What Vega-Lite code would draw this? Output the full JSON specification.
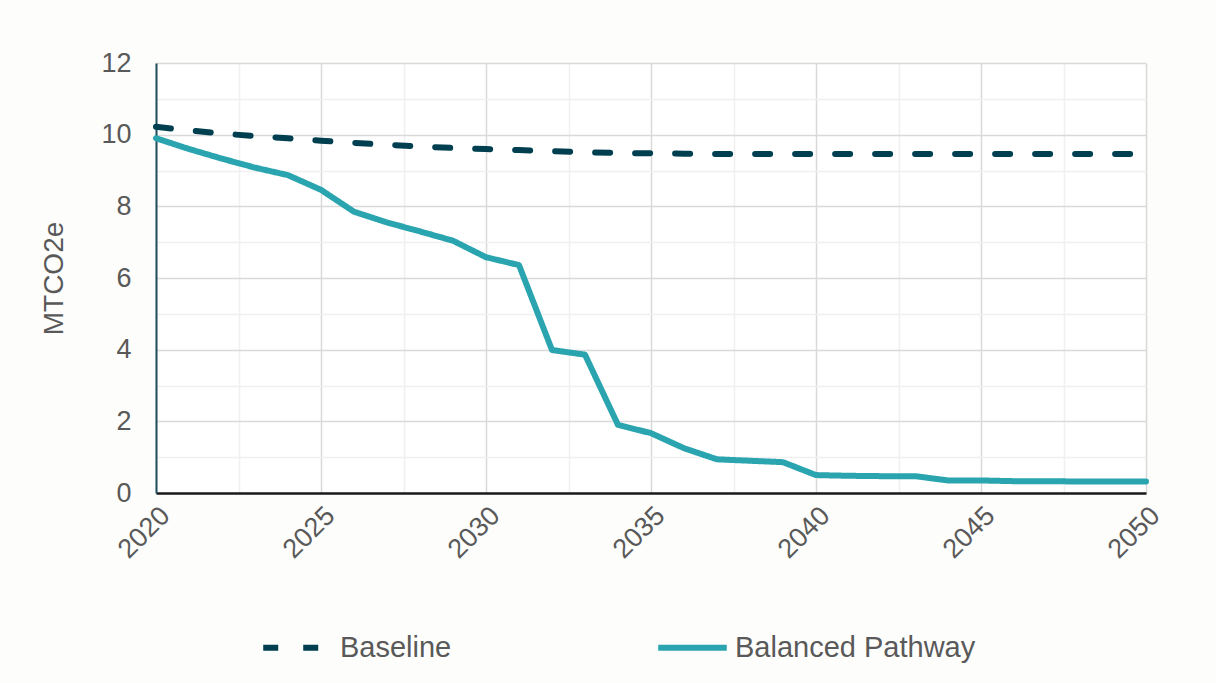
{
  "$schema": "https://vega.github.io/schema/vega-lite/v6.json",
  "width": 990,
  "height": 430,
  "autosize": {"type": "none"},
  "padding": {"left": 156, "top": 63, "right": 70, "bottom": 190},
  "background": "#fdfdfc",
  "config": {
    "font": "Liberation Sans",
    "view": {"stroke": null, "fill": "#ffffff"}
  },
  "data": {
    "values": [
      {"year": 2020, "series": "Baseline", "value": 10.22},
      {"year": 2021, "series": "Baseline", "value": 10.12},
      {"year": 2022, "series": "Baseline", "value": 10.03},
      {"year": 2023, "series": "Baseline", "value": 9.96},
      {"year": 2024, "series": "Baseline", "value": 9.9},
      {"year": 2025, "series": "Baseline", "value": 9.83},
      {"year": 2026, "series": "Baseline", "value": 9.77},
      {"year": 2027, "series": "Baseline", "value": 9.72},
      {"year": 2028, "series": "Baseline", "value": 9.67},
      {"year": 2029, "series": "Baseline", "value": 9.63},
      {"year": 2030, "series": "Baseline", "value": 9.6},
      {"year": 2031, "series": "Baseline", "value": 9.57},
      {"year": 2032, "series": "Baseline", "value": 9.54},
      {"year": 2033, "series": "Baseline", "value": 9.51},
      {"year": 2034, "series": "Baseline", "value": 9.49},
      {"year": 2035, "series": "Baseline", "value": 9.48},
      {"year": 2036, "series": "Baseline", "value": 9.47},
      {"year": 2037, "series": "Baseline", "value": 9.46},
      {"year": 2038, "series": "Baseline", "value": 9.46},
      {"year": 2039, "series": "Baseline", "value": 9.46},
      {"year": 2040, "series": "Baseline", "value": 9.46},
      {"year": 2041, "series": "Baseline", "value": 9.46},
      {"year": 2042, "series": "Baseline", "value": 9.46},
      {"year": 2043, "series": "Baseline", "value": 9.46},
      {"year": 2044, "series": "Baseline", "value": 9.46},
      {"year": 2045, "series": "Baseline", "value": 9.46},
      {"year": 2046, "series": "Baseline", "value": 9.46},
      {"year": 2047, "series": "Baseline", "value": 9.46},
      {"year": 2048, "series": "Baseline", "value": 9.46},
      {"year": 2049, "series": "Baseline", "value": 9.46},
      {"year": 2050, "series": "Baseline", "value": 9.46},
      {"year": 2020, "series": "Balanced Pathway", "value": 9.9},
      {"year": 2021, "series": "Balanced Pathway", "value": 9.6},
      {"year": 2022, "series": "Balanced Pathway", "value": 9.33},
      {"year": 2023, "series": "Balanced Pathway", "value": 9.08},
      {"year": 2024, "series": "Balanced Pathway", "value": 8.87},
      {"year": 2025, "series": "Balanced Pathway", "value": 8.46},
      {"year": 2026, "series": "Balanced Pathway", "value": 7.85},
      {"year": 2027, "series": "Balanced Pathway", "value": 7.55},
      {"year": 2028, "series": "Balanced Pathway", "value": 7.3},
      {"year": 2029, "series": "Balanced Pathway", "value": 7.04},
      {"year": 2030, "series": "Balanced Pathway", "value": 6.58},
      {"year": 2031, "series": "Balanced Pathway", "value": 6.36},
      {"year": 2032, "series": "Balanced Pathway", "value": 3.99},
      {"year": 2033, "series": "Balanced Pathway", "value": 3.86},
      {"year": 2034, "series": "Balanced Pathway", "value": 1.9},
      {"year": 2035, "series": "Balanced Pathway", "value": 1.67},
      {"year": 2036, "series": "Balanced Pathway", "value": 1.25},
      {"year": 2037, "series": "Balanced Pathway", "value": 0.94},
      {"year": 2038, "series": "Balanced Pathway", "value": 0.9},
      {"year": 2039, "series": "Balanced Pathway", "value": 0.86},
      {"year": 2040, "series": "Balanced Pathway", "value": 0.5},
      {"year": 2041, "series": "Balanced Pathway", "value": 0.48},
      {"year": 2042, "series": "Balanced Pathway", "value": 0.47},
      {"year": 2043, "series": "Balanced Pathway", "value": 0.47},
      {"year": 2044, "series": "Balanced Pathway", "value": 0.35},
      {"year": 2045, "series": "Balanced Pathway", "value": 0.35},
      {"year": 2046, "series": "Balanced Pathway", "value": 0.33},
      {"year": 2047, "series": "Balanced Pathway", "value": 0.33},
      {"year": 2048, "series": "Balanced Pathway", "value": 0.32},
      {"year": 2049, "series": "Balanced Pathway", "value": 0.32},
      {"year": 2050, "series": "Balanced Pathway", "value": 0.32}
    ]
  },
  "mark": {"type": "line", "strokeWidth": 6, "strokeCap": "round", "strokeJoin": "round"},
  "encoding": {
    "x": {
      "field": "year",
      "type": "quantitative",
      "scale": {"domain": [2020, 2050], "nice": false, "zero": false},
      "axis": {
        "title": null,
        "values": [2020, 2022.5, 2025, 2027.5, 2030, 2032.5, 2035, 2037.5, 2040, 2042.5, 2045, 2047.5, 2050],
        "labelExpr": "datum.value % 5 === 0 ? datum.value : ''",
        "labelAngle": -45,
        "labelFontSize": 27,
        "labelColor": "#595959",
        "labelPadding": 9,
        "labelFlush": false,
        "labelOverlap": false,
        "ticks": false,
        "domainColor": "#1a1a1a",
        "domainWidth": 2.5,
        "grid": true,
        "gridWidth": 1.5,
        "gridColor": {"condition": {"test": "datum.value % 5 === 0", "value": "#d9d9d9"}, "value": "#f0f0f0"}
      }
    },
    "y": {
      "field": "value",
      "type": "quantitative",
      "scale": {"domain": [0, 12], "nice": false},
      "axis": {
        "title": "MTCO2e",
        "titleFontSize": 28,
        "titleFontWeight": "normal",
        "titleColor": "#595959",
        "titlePadding": 32,
        "values": [0, 1, 2, 3, 4, 5, 6, 7, 8, 9, 10, 11, 12],
        "labelExpr": "datum.value % 2 === 0 ? datum.value : ''",
        "labelFontSize": 27,
        "labelColor": "#595959",
        "labelPadding": 25,
        "labelFlush": false,
        "labelOverlap": false,
        "ticks": false,
        "domainColor": "#1d4f5e",
        "domainWidth": 2,
        "grid": true,
        "gridWidth": 1.5,
        "gridColor": {"condition": {"test": "datum.value % 2 === 0", "value": "#d9d9d9"}, "value": "#f0f0f0"}
      }
    },
    "color": {
      "field": "series",
      "type": "nominal",
      "scale": {"domain": ["Baseline", "Balanced Pathway"], "range": ["#003f4f", "#2aa5b0"]},
      "legend": {
        "title": null,
        "orient": "none",
        "direction": "horizontal",
        "legendX": 104,
        "legendY": 547,
        "symbolType": "stroke",
        "symbolSize": 4700,
        "symbolStrokeWidth": 6,
        "labelFontSize": 29,
        "labelColor": "#595959",
        "labelOffset": 5,
        "labelLimit": 500,
        "columnPadding": 194
      }
    },
    "strokeDash": {
      "field": "series",
      "type": "nominal",
      "scale": {"domain": ["Baseline", "Balanced Pathway"], "range": [[15, 25], [1, 0]]},
      "legend": null
    }
  }
}
